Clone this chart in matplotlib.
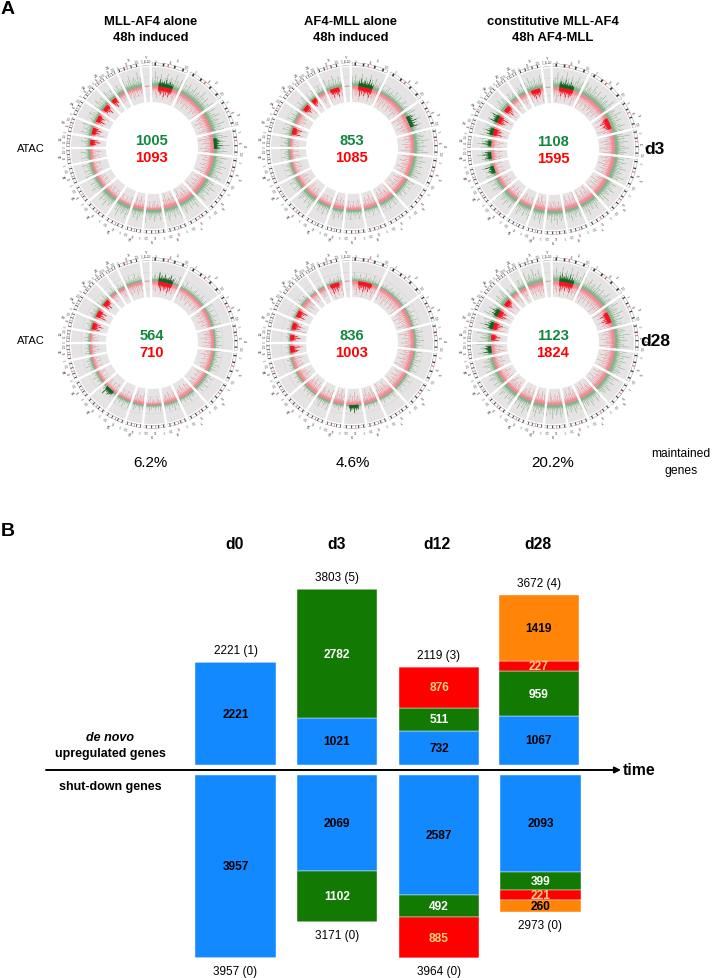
import numpy as np
import matplotlib
matplotlib.use('Agg')
import matplotlib.pyplot as plt

plt.rcParams['font.family'] = ['Liberation Sans', 'DejaVu Sans']

W, H = 714, 979

# panel A - circos tracks
chrom_names = ['1', '2', '3', '4', '5', '6', '7', '8', '9', '10', '11', '12', '13', '14',
               '15', '16', '17', '18', '19', '20', '21', 'X', 'Y']
chrom_span = [27, 29, 21, 20, 22, 19.5, 17.5, 15, 16.5, 12.5, 15, 16, 14, 14, 12, 10, 12,
              13, 12, 9, 9, 17, 7]
# tallest peak per chromosome, read by eye
green_1 = [15, 15, 15, 16, 15, 14, 13, 14, 13, 13, 15, 14, 11, 11, 10, 10, 12, 10, 12, 12, 12, 15, 1]
red_1 = [13, 13, 14, 15, 13, 14, 14, 15, 9, 13, 9, 10, 10, 9, 11, 9, 13, 13, 11, 10, 11, 11, 1]
green_2 = [14, 10, 13, 15, 13, 10, 11, 9, 10, 12, 11, 13, 11, 9, 9, 10, 10, 9, 10, 9, 10, 13, 1]
red_2 = [14, 14, 15, 13, 14, 14, 14, 13, 10, 14, 10, 11, 11, 9, 10, 9, 14, 12, 13, 11, 11, 13, 1]
green_3 = [16, 15, 15, 16, 15, 14, 14, 13, 14, 14, 14, 14, 12, 12, 14, 14, 13, 12, 13, 10, 11, 14, 1]
red_3 = [15, 15, 15, 15, 15, 15, 15, 15, 11, 15, 11, 11, 11, 10, 13, 13, 15, 14, 14, 12, 13, 14, 1]
green_4 = [10, 8, 9, 8, 9, 9, 8, 9, 7, 8, 9, 8, 7, 8, 6, 7, 7, 8, 7, 7, 6, 10, 1]
red_4 = [13, 12, 12, 13, 12, 12, 13, 12, 8, 12, 9, 10, 9, 9, 10, 9, 12, 12, 11, 10, 11, 12, 1]
green_5 = [9, 7, 8, 10, 9, 8, 7, 7, 5, 7, 10, 7, 6, 6, 5, 5, 5, 6, 7, 5, 6, 7, 1]
red_5 = [15, 14, 15, 14, 15, 14, 15, 14, 13, 15, 12, 14, 13, 11, 13, 11, 15, 12, 13, 11, 12, 15, 1]
green_6 = [16, 14, 15, 15, 16, 14, 14, 13, 14, 14, 15, 14, 13, 13, 15, 15, 14, 14, 14, 10, 11, 15, 1]
red_6 = [15, 15, 15, 15, 15, 15, 15, 15, 13, 15, 13, 13, 13, 11, 14, 13, 15, 14, 14, 12, 13, 15, 1]
green_peaks = [green_1, green_2, green_3, green_4, green_5, green_6]
red_peaks = [red_1, red_2, red_3, red_4, red_5, red_6]
# chromosomes with a solid cluster next to the baseline
red_hot = [['1', '16', '17', '18', '19', '20'], ['1', '17', '19', '20', 'X'], ['1', '3', '17', '18', '19', 'X'],
           ['1', '17', '18', '19'], ['1', '15', '16', '17', '18', 'X'], ['1', '3', '16', '17', '18', '19']]
green_hot = [['1', '4'], ['1', '3'], ['1', '14', '15', '16', '17', '18'], ['1', '12'], ['9'], ['1', '15', '17', '18']]
# relative spike heights, one profile shared by the tracks
spike_profile = [.18, .30, .22, .52, .20, .15, .38, .25, 1.0, .24, .17, .34, .20, .66, .28, .16, .23,
                 .42, .19, .27, .84, .21, .32, .17, .47, .25, .15, .36, .22, .60, .20, .28, .16, .92,
                 .26, .19, .40, .23, .17, .54, .29, .21, .74]
# ideogram dark bands as a fraction of chromosome length
dark_bands = [.12, .33, .62, .84]
band_ticks = ['0', '50', '100']

circle_numbers = [(1005, 1093), (853, 1085), (1108, 1595), (564, 710), (836, 1003), (1123, 1824)]
circle_titles = ['MLL-AF4 alone\n48h induced', 'AF4-MLL alone\n48h induced', 'constitutive MLL-AF4\n48h AF4-MLL']
maintained = ['6.2%', '4.6%', '20.2%']

# panel B - stacked bars
days = ['d0', 'd3', 'd12', 'd28']
up_blue = [2221, 1021, 732, 1067]
up_green = [0, 2782, 511, 959]
up_red = [0, 0, 876, 227]
up_orange = [0, 0, 0, 1419]
up_labels = ['2221 (1)', '3803 (5)', '2119 (3)', '3672 (4)']
down_blue = [3957, 2069, 2587, 2093]
down_green = [0, 1102, 492, 399]
down_red = [0, 0, 885, 221]
down_orange = [0, 0, 0, 260]
down_labels = ['3957 (0)', '3171 (0)', '3964 (0)', '2973 (0)']

BLUE, GREEN, RED, ORANGE = '#1289ff', '#127a03', '#ff0000', '#ff8408'
TXT_GREEN, TXT_RED = '#12873f', '#ff0000'

fig = plt.figure(figsize=(W / 100, H / 100), dpi=100)

# overlay in pixel coordinates for the free text
ov = fig.add_axes([0, 0, 1, 1], zorder=5)
ov.set_xlim(0, W)
ov.set_ylim(H, 0)
ov.axis('off')
ov.patch.set_alpha(0)

centers = [(152, 149), (352, 149), (553, 150), (152, 344), (352, 344), (553, 344)]
R_MAX = 97
R_IN, R_OUT, R_BASE = 46, 81, 62


def draw_circle(idx):
    cx, cy = centers[idx]
    ax = fig.add_axes([(cx - R_MAX) / W, 1 - (cy + R_MAX) / H, 2 * R_MAX / W, 2 * R_MAX / H],
                      projection='polar')
    ax.set_theta_zero_location('N')
    ax.set_theta_direction(-1)
    ax.set_rlim(0, R_MAX)
    ax.axis('off')

    ax.bar(0, R_OUT - R_IN, width=2 * np.pi + 0.01, bottom=R_IN, color='#e5e3e3', lw=0)
    th = np.linspace(0, 2 * np.pi, 300)
    for r in [54, 62, 71]:
        ax.plot(th, np.full(300, r), color='#d2d0d0', lw=0.35)

    edges = np.radians(np.concatenate([[0], np.cumsum(chrom_span)]) - 1)
    for i, name in enumerate(chrom_names):
        a0, a1 = edges[i], edges[i + 1]
        n = max(int(chrom_span[i] / 0.4), 2)
        thetas = np.linspace(a0 + 0.01, a1 - 0.01, n)
        shift = i * 7 + idx * 11
        rel = np.array([spike_profile[(k + shift) % len(spike_profile)] for k in range(n)])
        rel2 = np.array([spike_profile[(k + shift + 19) % len(spike_profile)] for k in range(n)])
        ax.vlines(thetas, R_BASE, R_BASE + rel * green_peaks[idx][i], color='#3c9148', lw=0.3, alpha=0.7)
        ax.vlines(thetas, R_BASE - rel2 * red_peaks[idx][i], R_BASE, color='#ff4a58', lw=0.3, alpha=0.7)
        # solid clusters keep the spiky outline of the track
        sel = np.abs(thetas - (a0 + a1) / 2) < (a1 - a0) * 0.24
        if name in red_hot[idx]:
            ax.vlines(thetas[sel], R_BASE - 2 - rel2[sel] * 8, R_BASE, color='#f4101c', lw=0.55)
        if name in green_hot[idx]:
            ax.vlines(thetas[sel], R_BASE, R_BASE + 1.5 + rel[sel] * 7, color='#0e5f1e', lw=0.55)

        # ideogram
        mid = (a0 + a1) / 2
        ax.bar(mid, 2.8, width=(a1 - a0) * 0.92, bottom=82.5, color='white', edgecolor='#555555', lw=0.2)
        if chrom_span[i] > 8:
            for b in dark_bands:
                ax.bar(a0 + (a1 - a0) * b, 2.8, width=(a1 - a0) * 0.04, bottom=82.5, color='#333333', lw=0)
            ax.bar(a0 + (a1 - a0) * 0.45, 2.8, width=(a1 - a0) * 0.03, bottom=82.5, color='#e8556a', lw=0)

        # tick labels and chromosome name
        for f, lab in zip([0.12, 0.5, 0.88], band_ticks):
            t = a0 + (a1 - a0) * f
            ax.text(t, 87.5, lab, fontsize=1.8, ha='center', va='center', color='#555555',
                    rotation=-np.degrees(t), rotation_mode='anchor')
        ax.text(mid + (a1 - a0) * 0.12, 91.5, name, fontsize=2.8, ha='center', va='center', color='#333333',
                rotation=-np.degrees(mid), rotation_mode='anchor')

    # white dividers between the chromosomes
    for e in edges[:-1]:
        ax.plot([e, e], [R_IN - 0.5, 87], color='white', lw=1.7, solid_capstyle='butt')

    g, r = circle_numbers[idx]
    ov.text(cx, cy - 8, str(g), color=TXT_GREEN, fontsize=10.6, fontweight='bold', ha='center', va='center')
    ov.text(cx, cy + 9, str(r), color=TXT_RED, fontsize=10.6, fontweight='bold', ha='center', va='center')


for k in range(6):
    draw_circle(k)

ov.text(8, 10, 'A', fontsize=14, fontweight='bold', ha='center', va='center')
ov.text(8, 532, 'B', fontsize=14, fontweight='bold', ha='center', va='center')
for x, t in zip([151, 351, 553], circle_titles):
    ov.text(x, 30, t, fontsize=9.4, fontweight='bold', ha='center', va='center', linespacing=1.55)
for y in [149, 341]:
    ov.text(31, y, 'ATAC', fontsize=8, ha='center', va='center')
ov.text(654, 149, 'd3', fontsize=12.5, fontweight='bold', ha='center', va='center')
ov.text(655, 342, 'd28', fontsize=12.5, fontweight='bold', ha='center', va='center')
for x, t in zip([150, 353, 553], maintained):
    ov.text(x, 463, t, fontsize=10.9, ha='center', va='center')
ov.text(681, 462.5, 'maintained\ngenes', fontsize=8.7, ha='center', va='center', linespacing=1.45)

# panel B, y axis in gene counts with zero on the arrow
SCALE = 0.0462  # px per gene
ZERO_PX = 771
GAP = 5 / SCALE
bx = fig.add_axes([0, 0, 1, 1], zorder=3)
bx.set_xlim(0, W)
bx.set_ylim(-(H - ZERO_PX) / SCALE, ZERO_PX / SCALE)
bx.axis('off')
bx.patch.set_alpha(0)

x_up = [235.5, 337, 439, 539]
x_down = [235.5, 337, 439, 540.5]
BAR_W = 80.5
seg_colors = [BLUE, GREEN, RED, ORANGE]
lab_colors = ['black', 'white', '#ffd27a', 'black']


def draw_stack(xs, series, sign, totals):
    base = np.full(4, GAP) * sign
    for vals, col, tc in zip(series, seg_colors, lab_colors):
        vals = np.array(vals, dtype=float)
        bx.bar(xs, vals * sign, width=BAR_W, bottom=base, color=col, edgecolor='white', lw=0.3)
        for x, v, b in zip(xs, vals, base):
            if v > 0:
                bx.text(x, b + sign * v / 2, str(int(v)), color=tc, fontsize=8.6, fontweight='bold',
                        ha='center', va='center', zorder=6)
        base = base + vals * sign
    off = (12 if sign > 0 else 13) / SCALE
    for x, end, t in zip(xs, base, totals):
        bx.text(x, end + sign * off, t, fontsize=8.5, ha='center', va='center')


draw_stack(x_up, [up_blue, up_green, up_red, up_orange], 1, up_labels)
draw_stack(x_down, [down_blue, down_green, down_red, down_orange], -1, down_labels)

for x, d in zip([235, 337, 437, 538], days):
    ov.text(x, 545, d, fontsize=11.3, fontweight='bold', ha='center', va='center')

ov.annotate('', xy=(621, ZERO_PX), xytext=(46, ZERO_PX),
            arrowprops=dict(arrowstyle='-|>', color='black', lw=1.4, mutation_scale=9, shrinkA=0, shrinkB=0))
ov.text(639, 771, 'time', fontsize=11.3, fontweight='bold', ha='center', va='center')
ov.text(110.5, 738, 'de novo', fontsize=9, fontweight='bold', fontstyle='italic', ha='center', va='center')
ov.text(110.5, 754, 'upregulated genes', fontsize=9, fontweight='bold', ha='center', va='center')
ov.text(110.5, 787, 'shut-down genes', fontsize=9, fontweight='bold', ha='center', va='center')

fig.savefig('out.png', dpi=100)
